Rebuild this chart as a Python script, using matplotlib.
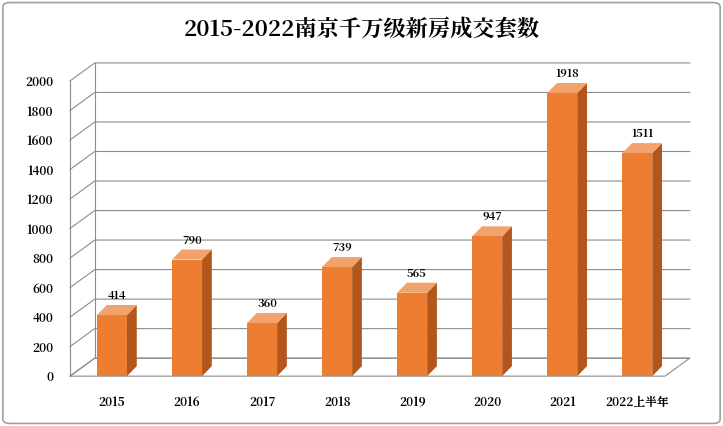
import matplotlib.pyplot as plt
from matplotlib import font_manager
from matplotlib.patches import Polygon, FancyBboxPatch

# locate a CJK font file
cjk = None
for f in font_manager.findSystemFonts():
    if 'CJK' in f and ('Bold' in f or cjk is None):
        cjk = f
        if 'Bold' in f:
            break
if cjk:
    font_manager.fontManager.addfont(cjk)
    cjk_name = font_manager.FontProperties(fname=cjk).get_name()
    plt.rcParams['font.family'] = [cjk_name, 'DejaVu Sans']

years = ['2015', '2016', '2017', '2018', '2019', '2020', '2021', '2022上半年']
counts = [414, 790, 360, 739, 565, 947, 1918, 1511]
yticks = list(range(0, 2001, 200))

fig = plt.figure(figsize=(7.23, 4.26), dpi=100)
fig.patches.append(FancyBboxPatch((0.004, 0.006), 0.992, 0.988, boxstyle='round,pad=0,rounding_size=0.01',
                                  transform=fig.transFigure, fc='white', ec='#a0a0a0', lw=1.2, zorder=-5))
ax = fig.add_axes([0.0968, 0.117, 0.823, 0.693])
xl, xr = -0.56, 7.37
ax.set_xlim(xl, xr)
ax.set_ylim(0, 2000)
for s in ax.spines.values():
    s.set_visible(False)
ax.patch.set_visible(False)

# wall depth
dx, dy = 0.33, 122
grid = '#8c8c8c'
ax.add_patch(Polygon([(xl, 0), (xr, 0), (xr + dx, dy), (xl + dx, dy)], closed=True,
                     fc='white', ec=grid, lw=0.8, clip_on=False, zorder=0))
for v in yticks:
    ax.plot([xl, xl + dx, xr + dx], [v, v + dy, v + dy], color=grid, lw=0.8, clip_on=False, zorder=0)
ax.plot([xl, xl], [0, 2000], color=grid, lw=0.8, clip_on=False, zorder=0)
ax.plot([xl + dx, xl + dx], [dy, 2000 + dy], color=grid, lw=0.8, clip_on=False, zorder=0)

# bars
w = 0.4
bdx, bdy = 0.13, 68
for i, c in enumerate(counts):
    x0, x1 = i - w / 2, i + w / 2
    ax.add_patch(Polygon([(x1, 0), (x1 + bdx, bdy), (x1 + bdx, c + bdy), (x1, c)],
                         fc='#b3561b', ec='none', clip_on=False, zorder=2))
    ax.add_patch(Polygon([(x0, c), (x1, c), (x1 + bdx, c + bdy), (x0 + bdx, c + bdy)],
                         fc='#f2a26c', ec='none', clip_on=False, zorder=2))
    ax.bar(i, c, width=w, color='#ed7d31', zorder=3)
    ax.text(i + bdx / 2, c + bdy + 20, str(c), ha='center', va='bottom', fontsize=8,
            fontweight='bold', zorder=4)

ax.set_yticks(yticks)
ax.set_yticklabels([str(v) for v in yticks], fontsize=8.5, fontweight='bold')
ax.set_xticks(range(len(years)))
ax.set_xticklabels(years, fontsize=8.5, fontweight='bold')
ax.tick_params(length=0, axis='y', pad=12)
ax.tick_params(length=0, axis='x', pad=14)

fig.text(0.5, 0.93, '2015-2022南京千万级新房成交套数', ha='center', va='center',
         fontsize=16, fontweight='bold')
fig.savefig('out.png', dpi=100)
